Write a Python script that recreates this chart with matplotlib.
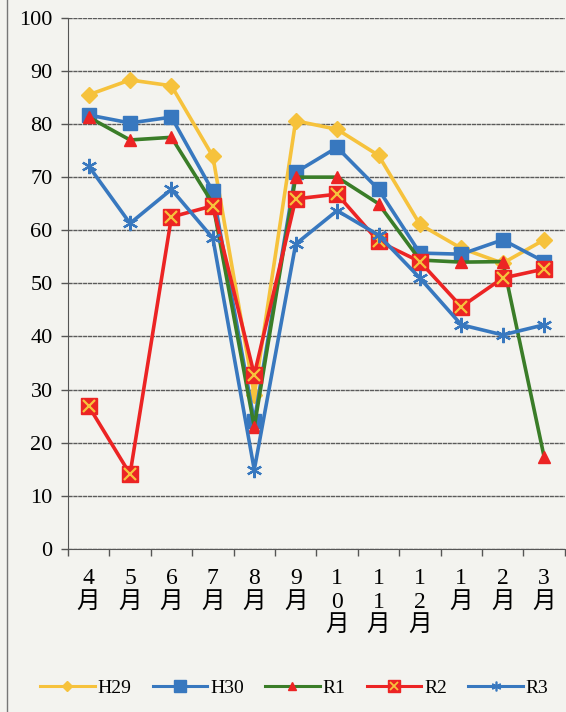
import matplotlib.pyplot as plt
from matplotlib.lines import Line2D

months = ["4\n月", "5\n月", "6\n月", "7\n月", "8\n月", "9\n月",
          "1\n0\n月", "1\n1\n月", "1\n2\n月", "1\n月", "2\n月", "3\n月"]

h29 = [85.5, 88.3, 87.2, 73.9, 29.0, 80.6, 79.0, 74.1, 61.1, 56.6, 53.8, 58.2]
h30 = [81.7, 80.2, 81.3, 67.3, 24.0, 70.9, 75.6, 67.7, 55.7, 55.5, 58.2, 54.1]
r1 = [81.3, 77.0, 77.5, 65.0, 23.0, 70.0, 70.0, 65.0, 54.4, 54.0, 54.1, 17.3]
r2 = [26.9, 14.1, 62.5, 64.6, 32.8, 65.9, 66.8, 57.9, 54.1, 45.6, 51.0, 52.7]
r3 = [72.1, 61.3, 67.7, 58.5, 14.9, 57.4, 63.7, 59.1, 51.0, 42.2, 40.3, 42.2]

YELLOW = "#f6c23c"
BLUE = "#3878bf"
GREEN = "#3a7d28"
RED = "#ec2424"
BG = "#f3f3ef"

plt.rcParams["font.family"] = ["Liberation Serif", "Noto Sans CJK JP"]

fig = plt.figure(figsize=(5.66, 7.12), dpi=100, facecolor=BG)
ax = fig.add_axes([0.120, 0.229, 0.878, 0.746], facecolor=BG)

x = list(range(len(months)))
lw = 2.6

ax.plot(x, h29, color=YELLOW, lw=lw, marker="D", ms=8,
        mfc=YELLOW, mec=YELLOW, zorder=3)
ax.plot(x, h30, color=BLUE, lw=lw, marker="s", ms=10,
        mfc=BLUE, mec=BLUE, zorder=4)
ax.plot(x, r1, color=GREEN, lw=lw, marker="^", ms=8,
        mfc=RED, mec=RED, zorder=5)
ax.plot(x, r2, color=RED, lw=lw, marker="s", ms=11,
        mfc=RED, mec=RED, zorder=6)
ax.plot(x, r2, ls="none", marker="x", ms=8, mew=1.6,
        mec=YELLOW, zorder=7)
ax.plot(x, r3, color=BLUE, lw=lw, marker=(6, 2, 0), ms=11, mew=1.6,
        mec=BLUE, zorder=8)

ax.set_xlim(-0.5, len(months) - 0.5)
ax.set_ylim(0, 100)
ax.set_yticks(range(0, 101, 10))
ax.set_xticks(x)
ax.set_xticklabels(months, fontsize=17, linespacing=1.15)
ax.set_xticks([i + 0.5 for i in range(-1, len(months))], minor=True)
ax.tick_params(axis="x", which="major", length=0, pad=14)
ax.tick_params(axis="x", which="minor", length=5, width=1.0, color="#555555",
               direction="out")
ax.tick_params(axis="y", length=5, width=1.0, color="#555555",
               direction="out", labelsize=16, pad=6)

ax.grid(axis="y", color="#5a5a5a", lw=1.0, ls=(0, (3, 0.5)))
ax.set_axisbelow(True)
for s in ["top", "right"]:
    ax.spines[s].set_visible(False)
ax.spines["left"].set_color("#555555")
ax.spines["bottom"].set_color("#555555")

# frame line on the left edge of the scanned chart
fig.add_artist(Line2D([0.013, 0.013], [0, 1], color="#777777", lw=1.0,
                      transform=fig.transFigure))

lw_leg = 2.2
handles = [
    Line2D([], [], color=YELLOW, lw=lw_leg, marker="D", ms=5, mfc=YELLOW, mec=YELLOW),
    Line2D([], [], color=BLUE, lw=lw_leg, marker="s", ms=8, mfc=BLUE, mec=BLUE),
    Line2D([], [], color=GREEN, lw=lw_leg, marker="^", ms=6, mfc=RED, mec=RED),
    (Line2D([], [], color=RED, lw=lw_leg, marker="s", ms=8, mfc=RED, mec=RED),
     Line2D([], [], ls="none", marker="x", ms=6, mew=1.3, mec=YELLOW)),
    Line2D([], [], color=BLUE, lw=lw_leg, marker=(6, 2, 0), ms=7, mew=1.2, mec=BLUE),
]
fig.legend(handles, ["H29", "H30", "R1", "R2", "R3"], loc="center",
           bbox_to_anchor=(0.52, 0.034), ncol=5, frameon=False, fontsize=14,
           handlelength=2.8, handletextpad=0.15, columnspacing=1.1)

fig.savefig("out.png", dpi=100, facecolor=BG)
